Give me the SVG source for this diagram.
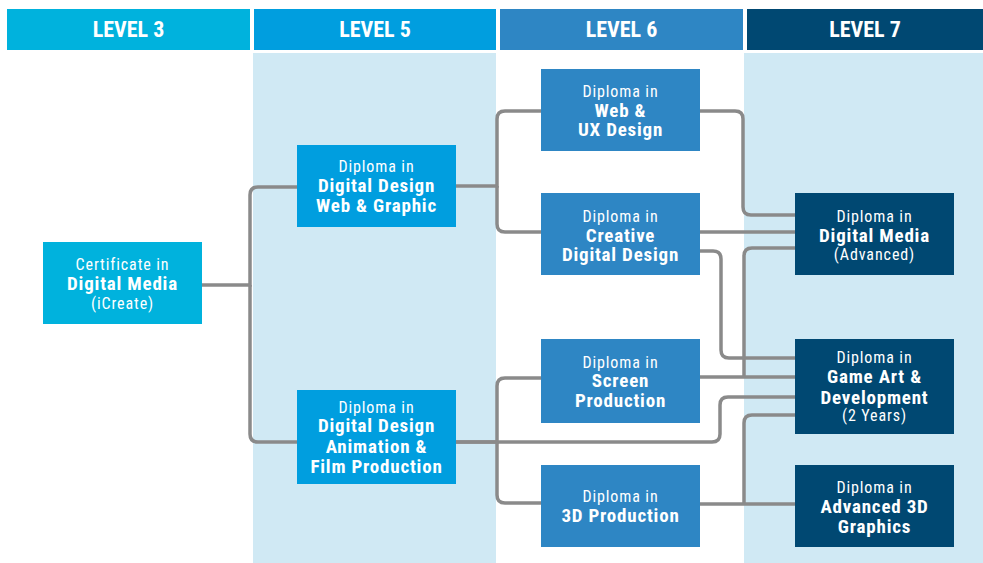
<svg xmlns="http://www.w3.org/2000/svg" width="983" height="563" viewBox="0 0 983 563">
<style>
.hd{font-family:"Liberation Sans Narrow","Roboto Condensed","DejaVu Sans Condensed",sans-serif;font-weight:bold;font-size:22px;fill:#fff;text-anchor:middle}
.t{font-family:"Liberation Sans Narrow","Roboto Condensed","DejaVu Sans Condensed",sans-serif;fill:#fff;text-anchor:middle}
.r{font-size:16px;letter-spacing:0.9px}
.b{font-size:19px;font-weight:bold;letter-spacing:0.8px}
.c{fill:none;stroke:#8a8a8a;stroke-width:3.5}
</style>
<rect width="983" height="563" fill="#fff"/>
<rect x="253" y="53" width="243" height="510" fill="#d0e9f4"/>
<rect x="744" y="53" width="239" height="510" fill="#d0e9f4"/>
<g id="headers">
<rect x="7" y="9" width="243" height="41" fill="#00b2dd"/>
<text class="hd" x="128.5" y="37">LEVEL 3</text>
<rect x="254" y="9" width="242" height="41" fill="#009edf"/>
<text class="hd" x="375" y="37">LEVEL 5</text>
<rect x="500" y="9" width="243" height="41" fill="#2e86c4"/>
<text class="hd" x="621.5" y="37">LEVEL 6</text>
<rect x="747" y="9" width="236" height="41" fill="#004872"/>
<text class="hd" x="865" y="37">LEVEL 7</text>
</g>
<g id="connectors">
<path class="c" d="M202,285 H250 V195 Q250,187 258,187 H297"/>
<path class="c" d="M250,285 V434 Q250,442 258,442 H297"/>
<path class="c" d="M456,186 H497 V119 Q497,111 505,111 H541"/>
<path class="c" d="M497,186 V224 Q497,232 505,232 H541"/>
<path class="c" d="M456,442 H497 V386 Q497,378 505,378 H541"/>
<path class="c" d="M497,442 V495 Q497,503 505,503 H541"/>
<path class="c" d="M456,442 H712 Q720,442 720,434 V405 Q720,397 728,397 H795"/>
<path class="c" d="M700,111 H735 Q743,111 743,119 V207 Q743,215 751,215 H795"/>
<path class="c" d="M700,232 H795"/>
<path class="c" d="M700,251 H713 Q721,251 721,259 V350 Q721,358 729,358 H795"/>
<path class="c" d="M700,377 H795"/>
<path class="c" d="M744,377 V256 Q744,248 752,248 H795"/>
<path class="c" d="M700,504 H795"/>
<path class="c" d="M744,504 V423 Q744,415 752,415 H795"/>
</g>
<g id="cert">
<rect x="43" y="242" width="159" height="82" fill="#00b2dd"/>
<text class="t r" x="122.5" y="270">Certificate in</text>
<text class="t b" x="122.5" y="290">Digital Media</text>
<text class="t r" x="122.5" y="309">(iCreate)</text>
</g>
<g id="dd-web">
<rect x="297" y="145" width="159" height="82" fill="#009edf"/>
<text class="t r" x="376.5" y="172">Diploma in</text>
<text class="t b" x="376.5" y="192">Digital Design</text>
<text class="t b" x="376.5" y="212">Web &amp; Graphic</text>
</g>
<g id="dd-anim">
<rect x="297" y="390" width="159" height="94" fill="#009edf"/>
<text class="t r" x="376.5" y="413">Diploma in</text>
<text class="t b" x="376.5" y="432">Digital Design</text>
<text class="t b" x="376.5" y="453">Animation &amp;</text>
<text class="t b" x="376.5" y="473">Film Production</text>
</g>
<g id="web-ux">
<rect x="541" y="69" width="159" height="82" fill="#2e86c4"/>
<text class="t r" x="620.5" y="97">Diploma in</text>
<text class="t b" x="620.5" y="117">Web &amp;</text>
<text class="t b" x="620.5" y="136">UX Design</text>
</g>
<g id="creative">
<rect x="541" y="193" width="159" height="82" fill="#2e86c4"/>
<text class="t r" x="620.5" y="222">Diploma in</text>
<text class="t b" x="620.5" y="242">Creative</text>
<text class="t b" x="620.5" y="261">Digital Design</text>
</g>
<g id="screen">
<rect x="541" y="339" width="159" height="84" fill="#2e86c4"/>
<text class="t r" x="620.5" y="368">Diploma in</text>
<text class="t b" x="620.5" y="387">Screen</text>
<text class="t b" x="620.5" y="407">Production</text>
</g>
<g id="prod3d">
<rect x="541" y="465" width="159" height="82" fill="#2e86c4"/>
<text class="t r" x="620.5" y="502">Diploma in</text>
<text class="t b" x="620.5" y="522">3D Production</text>
</g>
<g id="dma">
<rect x="795" y="193" width="159" height="82" fill="#004872"/>
<text class="t r" x="874.5" y="222">Diploma in</text>
<text class="t b" x="874.5" y="242">Digital Media</text>
<text class="t r" x="874.5" y="260">(Advanced)</text>
</g>
<g id="game">
<rect x="795" y="339" width="159" height="95" fill="#004872"/>
<text class="t r" x="874.5" y="363">Diploma in</text>
<text class="t b" x="874.5" y="383">Game Art &amp;</text>
<text class="t b" x="874.5" y="404">Development</text>
<text class="t r" x="874.5" y="421">(2 Years)</text>
</g>
<g id="adv3d">
<rect x="795" y="465" width="159" height="82" fill="#004872"/>
<text class="t r" x="874.5" y="493">Diploma in</text>
<text class="t b" x="874.5" y="513">Advanced 3D</text>
<text class="t b" x="874.5" y="533">Graphics</text>
</g>
</svg>
